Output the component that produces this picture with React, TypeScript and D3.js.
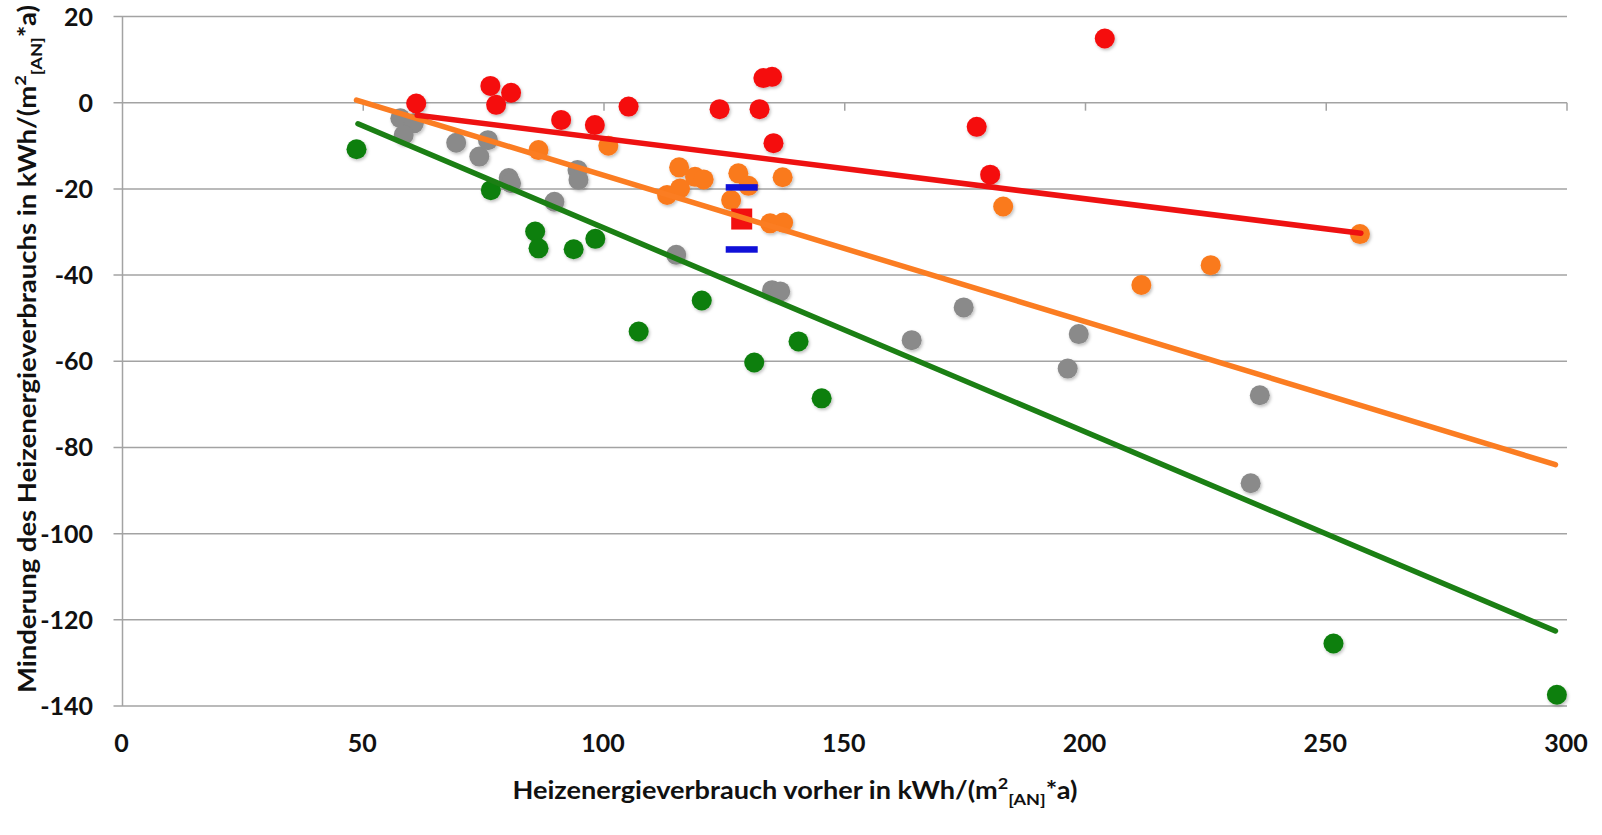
import React, { useEffect, useRef } from 'react';
import * as d3 from 'd3';

type Pt = [number, number];

// values (x: consumption before, y: reduction)
const grayPoints: Pt[] = [
  [57.7, -3.6], [60.5, -4.8], [58.4, -7.5], [69.3, -9.3], [74.1, -12.5],
  [75.9, -8.7], [80.2, -17.5], [80.7, -18.7], [89.7, -23.0], [94.5, -15.6],
  [94.7, -17.9], [115.0, -35.3], [134.9, -43.5], [136.6, -43.8], [163.9, -55.1],
  [174.7, -47.5], [196.3, -61.7], [198.6, -53.7], [234.3, -88.3], [236.2, -67.9],
];

const greenPoints: Pt[] = [
  [48.6, -10.8], [76.5, -20.3], [85.7, -29.9], [86.4, -33.8], [93.7, -34.0],
  [98.2, -31.6], [107.2, -53.1], [120.3, -45.9], [131.2, -60.3], [140.4, -55.4],
  [145.2, -68.6], [251.5, -125.5], [297.9, -137.4],
];

const orangePoints: Pt[] = [
  [86.4, -11.0], [100.9, -10.0], [113.1, -21.4], [115.8, -19.9], [115.6, -15.0],
  [118.9, -17.2], [120.7, -17.8], [126.4, -22.6], [127.9, -16.4], [130.0, -19.3],
  [134.5, -28.0], [137.2, -27.8], [137.1, -17.3], [182.9, -24.1], [211.6, -42.3],
  [226.0, -37.7], [257.0, -30.5],
];

const redPoints: Pt[] = [
  [61.0, -0.2], [76.4, 3.9], [77.6, -0.5], [80.7, 2.3], [91.1, -4.0],
  [98.1, -5.2], [105.1, -0.9], [124.0, -1.5], [132.3, -1.5], [133.1, 5.7],
  [134.9, 6.0], [135.2, -9.4], [177.4, -5.6], [180.2, -16.7], [204.0, 14.9],
];

// trend lines (start / end)
const redTrend: Pt[] = [[61.2, -2.9], [257.2, -30.3]];
const orangeTrend: Pt[] = [[48.6, 0.6], [297.6, -84.0]];
const greenTrend: Pt[] = [[48.9, -4.9], [297.6, -122.6]];

// mean marker with upper / lower bound
const meanX = 128.6;
const meanValue = -27.0;
const meanBounds = [-19.6, -34.0];

const xTicks = [0, 50, 100, 150, 200, 250, 300];
const yTicks = [20, 0, -20, -40, -60, -80, -100, -120, -140];

const WIDTH = 1602;
const HEIGHT = 835;
const FONT = 'Lato, "Open Sans", sans-serif';

const App: React.FC = () => {
  const svgRef = useRef<SVGSVGElement>(null);

  useEffect(() => {
    if (!svgRef.current) return;
    const svg = d3.select(svgRef.current);
    svg.selectAll('*').remove();

    const x = d3.scaleLinear().domain([0, 300]).range([122.5, 1567]);
    const y = d3.scaleLinear().domain([-140, 20]).range([706, 16.5]);
    const [x0, x1] = x.range();

    const defs = svg.append('defs');
    const shadow = defs.append('filter').attr('id', 'dot-shadow')
      .attr('x', '-50%').attr('y', '-50%').attr('width', '200%').attr('height', '200%');
    shadow.append('feDropShadow')
      .attr('dx', 1.2).attr('dy', 1.8).attr('stdDeviation', 1.4)
      .attr('flood-color', '#000').attr('flood-opacity', 0.25);

    // grid lines + small ticks left of the axis
    svg.append('g')
      .selectAll('line')
      .data(yTicks)
      .join('line')
      .attr('x1', x0 - 9)
      .attr('x2', x1)
      .attr('y1', (d) => y(d))
      .attr('y2', (d) => y(d))
      .attr('stroke', '#a3a3a3')
      .attr('stroke-width', 1.5);

    // vertical axis
    svg.append('line')
      .attr('x1', x0).attr('x2', x0)
      .attr('y1', y(20)).attr('y2', y(-140))
      .attr('stroke', '#a3a3a3').attr('stroke-width', 1.5);

    // x ticks sit on the zero line
    svg.append('g')
      .selectAll('line')
      .data(xTicks.filter((d) => d > 0))
      .join('line')
      .attr('x1', (d) => x(d))
      .attr('x2', (d) => x(d))
      .attr('y1', y(0))
      .attr('y2', y(0) + 8)
      .attr('stroke', '#a3a3a3')
      .attr('stroke-width', 1.5);

    // tick labels
    svg.append('g')
      .selectAll('text')
      .data(yTicks)
      .join('text')
      .attr('x', 93)
      .attr('y', (d) => y(d))
      .attr('dy', '0.36em')
      .attr('text-anchor', 'end')
      .style('font-family', FONT)
      .style('font-weight', 700)
      .style('font-size', '25px')
      .attr('fill', '#111')
      .text((d) => String(d));

    svg.append('g')
      .selectAll('text')
      .data(xTicks)
      .join('text')
      .attr('x', (d) => x(d) - 1)
      .attr('y', 752)
      .attr('text-anchor', 'middle')
      .style('font-family', FONT)
      .style('font-weight', 700)
      .style('font-size', '25px')
      .attr('fill', '#111')
      .text((d) => String(d));

    // scatter series
    const drawDots = (pts: Pt[], color: string) => {
      svg.append('g')
        .attr('filter', 'url(#dot-shadow)')
        .selectAll('circle')
        .data(pts)
        .join('circle')
        .attr('cx', (d) => x(d[0]))
        .attr('cy', (d) => y(d[1]))
        .attr('r', 10)
        .attr('fill', color);
    };
    drawDots(grayPoints, '#8a8a8a');
    drawDots(greenPoints, '#0b7f0b');
    drawDots(orangePoints, '#fa7a1c');
    drawDots(redPoints, '#f50a0a');

    // mean marker
    const mx = x(meanX);
    svg.append('rect')
      .attr('x', mx - 10.5).attr('y', y(meanValue) - 10.5)
      .attr('width', 21).attr('height', 21)
      .attr('fill', '#f21010');
    svg.append('g')
      .selectAll('rect')
      .data(meanBounds)
      .join('rect')
      .attr('x', mx - 16)
      .attr('y', (d) => y(d) - 3)
      .attr('width', 32)
      .attr('height', 6.5)
      .attr('fill', '#1010d8');

    // trend lines
    const line = d3.line<Pt>().x((d) => x(d[0])).y((d) => y(d[1]));
    const trends: [Pt[], string][] = [
      [greenTrend, '#1b7f14'],
      [orangeTrend, '#fb7d22'],
      [redTrend, '#ee1111'],
    ];
    trends.forEach(([pts, color]) => {
      svg.append('path')
        .datum(pts)
        .attr('d', line)
        .attr('fill', 'none')
        .attr('stroke', color)
        .attr('stroke-width', 5.5)
        .attr('stroke-linecap', 'round');
    });

    // axis titles with m²[AN]
    const addTitle = (
      g: d3.Selection<SVGTextElement, unknown, null, undefined>,
      main: string,
      length: number
    ) => {
      g.attr('text-anchor', 'middle')
        .attr('textLength', length)
        .attr('lengthAdjust', 'spacingAndGlyphs')
        .style('font-family', FONT)
        .style('font-weight', 700)
        .style('font-size', '24px')
        .attr('fill', '#111');
      g.append('tspan').text(main);
      g.append('tspan').attr('dy', -10).style('font-size', '16px').text('2');
      g.append('tspan').attr('dy', 16).style('font-size', '16px').text('[AN]');
      g.append('tspan').attr('dy', -6).text('*a)');
    };

    addTitle(
      svg.append('text').attr('x', 795).attr('y', 799),
      'Heizenergieverbrauch vorher in kWh/(m',
      565
    );
    addTitle(
      svg.append('text').attr('transform', 'translate(36,349) rotate(-90)'),
      'Minderung des Heizenergieverbrauchs in kWh/(m',
      688
    );
  }, []);

  return (
    <svg
      ref={svgRef}
      width={WIDTH}
      height={HEIGHT}
      style={{ position: 'absolute', left: 0, top: 0, background: '#fff' }}
    />
  );
};

export default App;
